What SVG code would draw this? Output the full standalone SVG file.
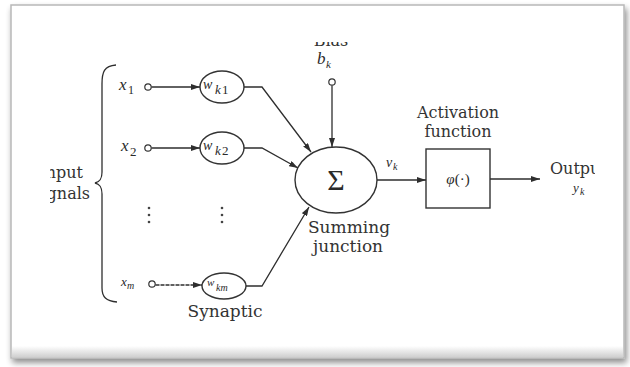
<svg xmlns="http://www.w3.org/2000/svg" width="630" height="367" viewBox="0 0 630 367">
  <style>
    .ln { stroke: #2e2e2e; stroke-width: 1.3; fill: none; }
    .nd { stroke: #333; stroke-width: 1.4; fill: #fff; }
    .pt { stroke: #333; stroke-width: 1.2; fill: #fff; }
    .lbl { font-family: "DejaVu Serif", "Liberation Serif", serif; fill: #333; }
    .m { font-family: "Liberation Serif", "DejaVu Serif", serif; font-style: italic; fill: #2a2a2a; }
    .sub { font-family: "Liberation Serif", "DejaVu Serif", serif; fill: #2a2a2a; }
    .subi { font-family: "Liberation Serif", "DejaVu Serif", serif; font-style: italic; fill: #2a2a2a; }
  </style>
  <defs>
    <marker id="arr" viewBox="0 0 9 6" refX="9" refY="3" markerWidth="9" markerHeight="6" markerUnits="userSpaceOnUse" orient="auto">
      <path d="M0,0 L9,3 L0,6 z" fill="#2e2e2e"/>
    </marker>
    <filter id="shadow" x="-5%" y="-5%" width="110%" height="115%">
      <feGaussianBlur in="SourceAlpha" stdDeviation="3"/>
      <feOffset dx="2" dy="4"/>
      <feComponentTransfer><feFuncA type="linear" slope="0.45"/></feComponentTransfer>
      <feMerge><feMergeNode/><feMergeNode in="SourceGraphic"/></feMerge>
    </filter>
    <linearGradient id="bottomBand" x1="0" y1="0" x2="0" y2="1">
      <stop offset="0" stop-color="#fff"/>
      <stop offset="1" stop-color="#d0d0d0"/>
    </linearGradient>
    <clipPath id="clipLeft"><rect x="50" y="150" width="60" height="60"/></clipPath>
    <clipPath id="clipRight"><rect x="540" y="150" width="55" height="40"/></clipPath>
    <clipPath id="clipTop"><rect x="300" y="42" width="60" height="8"/></clipPath>
  </defs>

  <!-- card -->
  <rect x="0" y="0" width="630" height="367" fill="#fff"/>
  <g id="card" filter="url(#shadow)">
    <rect x="11" y="5" width="613" height="353" fill="#fff" stroke="#b8b8b8" stroke-width="1.5"/>
  </g>
  <rect x="12" y="346" width="611" height="11" fill="url(#bottomBand)"/>

  <!-- input signals -->
  <g id="inputs-label">
    <path class="ln" d="M116,65 C104,66 102,72 102,84 L102,172 C102,180 99,182 95,183 C99,184 102,186 102,194 L102,288 C102,297 106,301 117,302"/>
    <g clip-path="url(#clipLeft)">
      <text class="lbl" x="83" y="178" font-size="16" text-anchor="end">Input</text>
      <text class="lbl" x="90" y="199" font-size="16" text-anchor="end">signals</text>
    </g>
  </g>

  <g id="x1">
    <text class="m" x="119" y="90" font-size="17">x</text>
    <text class="sub" x="128" y="94" font-size="12">1</text>
    <circle class="pt" cx="148" cy="87" r="3.2"/>
  </g>
  <g id="x2">
    <text class="m" x="121" y="151" font-size="17">x</text>
    <text class="sub" x="130" y="156" font-size="13">2</text>
    <circle class="pt" cx="148" cy="148" r="3.2"/>
  </g>
  <g id="xm">
    <text class="m" x="121" y="286" font-size="13">x</text>
    <text class="subi" x="127" y="289" font-size="10">m</text>
    <circle class="pt" cx="152" cy="284" r="3.2"/>
  </g>

  <g id="dots">
    <circle cx="149" cy="208" r="1.3" fill="#444"/>
    <circle cx="149" cy="215" r="1.3" fill="#444"/>
    <circle cx="149" cy="222" r="1.3" fill="#444"/>
    <circle cx="222" cy="208" r="1.3" fill="#444"/>
    <circle cx="222" cy="215" r="1.3" fill="#444"/>
    <circle cx="222" cy="222" r="1.3" fill="#444"/>
  </g>

  <!-- synaptic weights -->
  <g id="wk1">
    <ellipse class="nd" cx="222" cy="87" rx="22" ry="16"/>
    <text class="m" x="203" y="89" font-size="14">w</text>
    <text class="subi" x="215" y="94" font-size="13">k</text>
    <text class="sub" x="222" y="94" font-size="13">1</text>
  </g>
  <g id="wk2">
    <ellipse class="nd" cx="222" cy="148" rx="22" ry="16"/>
    <text class="m" x="203" y="150" font-size="14">w</text>
    <text class="subi" x="215" y="155" font-size="13">k</text>
    <text class="sub" x="222" y="155" font-size="13">2</text>
  </g>
  <g id="wkm">
    <ellipse class="nd" cx="224" cy="286" rx="22" ry="13"/>
    <text class="m" x="207" y="286" font-size="11">w</text>
    <text class="subi" x="216" y="291" font-size="10">km</text>
  </g>
  <g id="synaptic-label">
    <text class="lbl" x="225" y="317" font-size="17" text-anchor="middle">Synaptic</text>
  </g>

  <!-- bias -->
  <g id="bias">
    <g clip-path="url(#clipTop)">
      <text class="lbl" x="331" y="46" font-size="16" text-anchor="middle">Bias</text>
    </g>
    <text class="m" x="317" y="64" font-size="17">b</text>
    <text class="subi" x="326" y="68" font-size="11">k</text>
    <circle class="pt" cx="332" cy="82" r="3.2"/>
  </g>

  <!-- summing junction -->
  <g id="sum">
    <ellipse class="nd" cx="336" cy="180" rx="41" ry="33" stroke="#555"/>
    <text x="336" y="190" font-size="30" text-anchor="middle" font-family="Liberation Serif, DejaVu Serif, serif" fill="#2a2a2a">Σ</text>
    <text class="lbl" x="349" y="233" font-size="17" text-anchor="middle">Summing</text>
    <text class="lbl" x="348" y="252" font-size="17" text-anchor="middle">junction</text>
  </g>

  <g id="vk">
    <text class="m" x="386" y="167" font-size="14">v</text>
    <text class="subi" x="393" y="170" font-size="10">k</text>
  </g>

  <!-- activation function -->
  <g id="activation">
    <text class="lbl" x="458" y="118" font-size="16" text-anchor="middle">Activation</text>
    <text class="lbl" x="458" y="137" font-size="16" text-anchor="middle">function</text>
    <rect class="nd" x="426" y="149" width="64" height="59"/>
    <text x="458" y="184" font-size="15" text-anchor="middle" font-family="Liberation Serif, DejaVu Serif, serif" fill="#2a2a2a"><tspan font-style="italic">φ</tspan>(·)</text>
  </g>

  <!-- output -->
  <g id="output">
    <g clip-path="url(#clipRight)">
      <text class="lbl" x="550" y="174" font-size="16">Output</text>
    </g>
    <text class="m" x="573" y="192" font-size="13">y</text>
    <text class="subi" x="580" y="195" font-size="10">k</text>
  </g>

  <!-- connectors -->
  <g id="connectors">
    <line class="ln" x1="151.5" y1="87" x2="200" y2="87" marker-end="url(#arr)"/>
    <line class="ln" x1="151.5" y1="148" x2="200" y2="148" marker-end="url(#arr)"/>
    <line class="ln" x1="155.5" y1="285" x2="202" y2="285" marker-end="url(#arr)" stroke-dasharray="4 1"/>
    <polyline class="ln" points="244,87 262,87 311,152" marker-end="url(#arr)"/>
    <polyline class="ln" points="244,148 262,148 298,168" marker-end="url(#arr)"/>
    <polyline class="ln" points="246,286 262,286 309,207" marker-end="url(#arr)"/>
    <line class="ln" x1="332" y1="85.5" x2="332" y2="147" marker-end="url(#arr)"/>
    <line class="ln" x1="377" y1="180" x2="426" y2="180" marker-end="url(#arr)"/>
    <line class="ln" x1="490" y1="179" x2="540" y2="179" marker-end="url(#arr)"/>
  </g>
</svg>
